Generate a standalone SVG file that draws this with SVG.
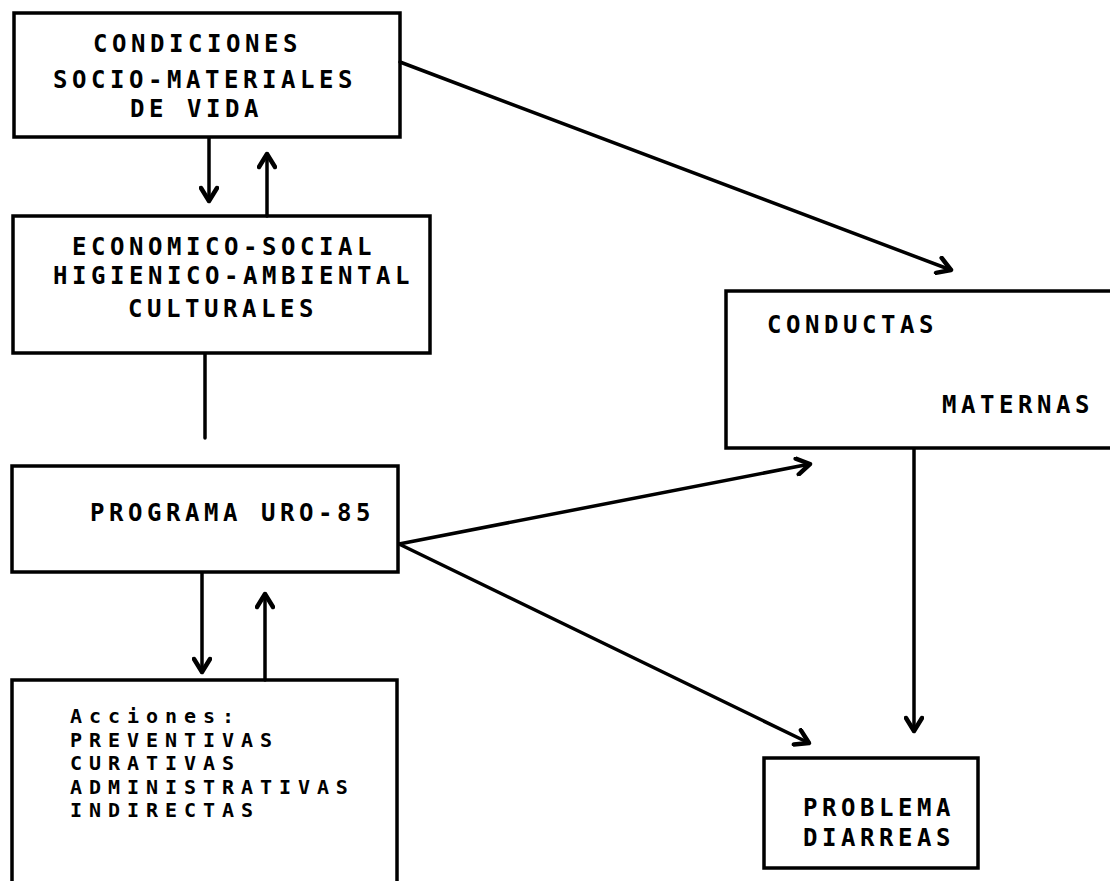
<svg xmlns="http://www.w3.org/2000/svg" width="1110" height="881" viewBox="0 0 1110 881">
<style>
.box{fill:none;stroke:#000;stroke-width:3.5;stroke-linejoin:miter}
.t{font-family:"DejaVu Sans Mono","Liberation Mono",monospace;font-weight:bold;font-size:24px;letter-spacing:4.55px;fill:#000}
.s{font-size:20px;letter-spacing:6.95px}
.c{fill:none;stroke:#000;stroke-width:3.5;stroke-linecap:round}
</style>
<defs>
<marker id="ah" viewBox="0 0 20 20" refX="17" refY="10" markerWidth="20" markerHeight="20" markerUnits="userSpaceOnUse" orient="auto">
<polyline points="4,2 17,10 4,18" fill="none" stroke="#000" stroke-width="4.5" stroke-linecap="round" stroke-linejoin="round"/>
</marker>
</defs>
<rect width="1110" height="881" fill="#fff"/>
<g id="connectors">
<line class="c" x1="400" y1="62" x2="951" y2="270" marker-end="url(#ah)"/>
<line class="c" x1="209" y1="138" x2="209" y2="201" marker-end="url(#ah)"/>
<line class="c" x1="267" y1="216" x2="267" y2="154" marker-end="url(#ah)"/>
<line class="c" x1="205" y1="354" x2="205" y2="438"/>
<line class="c" x1="202" y1="573" x2="202" y2="672" marker-end="url(#ah)"/>
<line class="c" x1="265" y1="680" x2="265" y2="594" marker-end="url(#ah)"/>
<line class="c" x1="399" y1="544" x2="810" y2="464" marker-end="url(#ah)"/>
<line class="c" x1="399" y1="544" x2="809" y2="743" marker-end="url(#ah)"/>
<line class="c" x1="914" y1="449" x2="914" y2="731" marker-end="url(#ah)"/>
</g>
<g id="n1">
<rect class="box" x="14" y="13" width="386" height="124"/>
<text class="t" x="93" y="52">CONDICIONES</text>
<text class="t" x="53" y="88">SOCIO-MATERIALES</text>
<text class="t" x="130" y="117">DE VIDA</text>
</g>
<g id="n2">
<rect class="box" x="13" y="216" width="417" height="137"/>
<text class="t" x="72" y="255">ECONOMICO-SOCIAL</text>
<text class="t" x="53" y="284">HIGIENICO-AMBIENTAL</text>
<text class="t" x="128" y="317">CULTURALES</text>
</g>
<g id="n3">
<rect class="box" x="12" y="466" width="386" height="106"/>
<text class="t" x="90" y="521">PROGRAMA URO-85</text>
</g>
<g id="n4">
<rect class="box" x="12" y="680" width="385" height="230"/>
<text class="t s" x="70" y="723">Acciones:</text>
<text class="t s" x="70" y="747">PREVENTIVAS</text>
<text class="t s" x="70" y="770">CURATIVAS</text>
<text class="t s" x="70" y="794">ADMINISTRATIVAS</text>
<text class="t s" x="70" y="817">INDIRECTAS</text>
</g>
<g id="n5">
<rect class="box" x="726" y="291" width="420" height="157"/>
<text class="t" x="767" y="333">CONDUCTAS</text>
<text class="t" x="942" y="413">MATERNAS</text>
</g>
<g id="n6">
<rect class="box" x="764" y="758" width="214" height="110"/>
<text class="t" x="803" y="816">PROBLEMA</text>
<text class="t" x="803" y="846">DIARREAS</text>
</g>
</svg>
